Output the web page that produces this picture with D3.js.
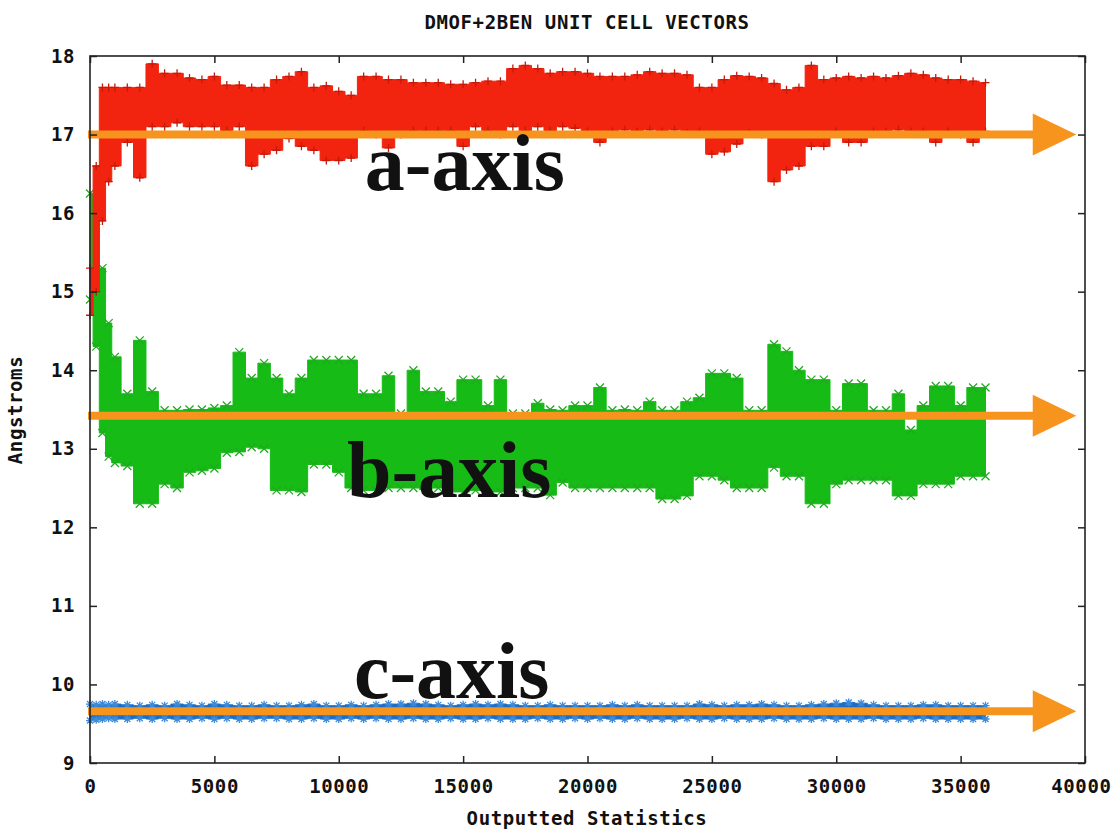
<!DOCTYPE html>
<html>
<head>
<meta charset="utf-8">
<title>DMOF+2BEN unit cell vectors</title>
<script src="https://d3js.org/d3.v7.min.js"></script>
<style>
  body { margin: 0; background: #fff; }
  .mono { font-family: "DejaVu Sans Mono", monospace; font-weight: bold; font-size: 19px; letter-spacing: 0.6px; fill: #111; }
  .big { font-family: "Liberation Serif", "Times New Roman", serif; font-weight: bold; font-size: 80px; fill: #111; }
</style>
</head>
<body>
<div id="vis"></div>
<script>
// sample positions (outputted statistics)
var steps = [0, 250, 500, 750, 1000, 1500, 2000, 2500, 3000, 3500, 4000, 4500, 5000, 5500, 6000,
  6500, 7000, 7500, 8000, 8500, 9000, 9500, 10000, 10500, 11000, 11500, 12000, 12500, 13000,
  13500, 14000, 14500, 15000, 15500, 16000, 16500, 17000, 17500, 18000, 18500, 19000, 19500,
  20000, 20500, 21000, 21500, 22000, 22500, 23000, 23500, 24000, 24500, 25000, 25500, 26000,
  26500, 27000, 27500, 28000, 28500, 29000, 29500, 30000, 30500, 31000, 31500, 32000, 32500,
  33000, 33500, 34000, 34500, 35000, 35500, 36000];

// a-axis (red) lower / upper envelope, Angstroms
var aLo = [14.7, 15.0, 15.9, 16.4, 16.6, 16.9, 16.45, 17.1, 17.1, 17.15, 17.1, 17.1, 17.1, 17.05, 17.1,
  16.6, 16.75, 16.8, 16.95, 16.85, 16.8, 16.67, 16.67, 16.7, 17.05, 17.0, 16.83, 17.0, 17.05,
  17.05, 17.05, 17.05, 16.85, 17.1, 17.05, 17.0, 17.1, 17.05, 17.1, 17.05, 17.1, 17.08,
  17.04, 16.9, 17.04, 17.06, 17.04, 17.06, 17.04, 17.06, 17.02, 17.04, 16.75, 16.78, 16.88,
  17.02, 17.0, 16.4, 16.55, 16.6, 16.85, 16.85, 17.04, 16.9, 16.9, 17.04, 17.04, 17.06,
  17.04, 17.04, 16.9, 17.04, 17.0, 16.9, 17.04];
var aHi = [15.3, 16.6, 17.6, 17.6, 17.6, 17.6, 17.6, 17.9, 17.78, 17.78, 17.72, 17.7, 17.74, 17.63, 17.63,
  17.6, 17.6, 17.7, 17.74, 17.8, 17.6, 17.62, 17.55, 17.5, 17.74, 17.74, 17.7, 17.7, 17.66,
  17.66, 17.66, 17.64, 17.64, 17.66, 17.68, 17.68, 17.84, 17.88, 17.84, 17.78, 17.8, 17.8,
  17.78, 17.74, 17.74, 17.74, 17.76, 17.8, 17.78, 17.78, 17.76, 17.6, 17.6, 17.7, 17.75,
  17.74, 17.72, 17.65, 17.57, 17.6, 17.88, 17.7, 17.72, 17.74, 17.72, 17.74, 17.72, 17.75,
  17.78, 17.76, 17.72, 17.7, 17.7, 17.68, 17.66];

// b-axis (green)
var bLo = [14.9, 14.3, 13.2, 12.9, 12.82, 12.78, 12.3, 12.3, 12.55, 12.5, 12.7, 12.72, 12.75, 12.95, 12.96,
  13.02, 13.0, 12.47, 12.47, 12.45, 12.8, 12.8, 12.7, 12.5, 12.47, 12.47, 12.5, 12.5, 12.5,
  12.48, 12.5, 12.45, 12.45, 12.47, 12.45, 12.45, 12.5, 12.5, 12.5, 12.41, 12.57, 12.5,
  12.5, 12.5, 12.5, 12.5, 12.5, 12.5, 12.36, 12.36, 12.4, 12.65, 12.65, 12.6, 12.5,
  12.5, 12.5, 12.76, 12.65, 12.65, 12.3, 12.3, 12.55, 12.6, 12.6, 12.6, 12.6, 12.4,
  12.4, 12.55, 12.55, 12.55, 12.65, 12.65, 12.65];
var bHi = [16.25, 15.9, 15.3, 14.6, 14.17, 13.7, 14.38, 13.73, 13.49, 13.49, 13.5, 13.5, 13.52, 13.55, 14.23,
  13.9, 14.09, 13.9, 13.7, 13.9, 14.13, 14.13, 14.13, 14.13, 13.7, 13.7, 13.93, 13.45, 14.0,
  13.73, 13.73, 13.6, 13.88, 13.88, 13.55, 13.88, 13.45, 13.45, 13.58, 13.5, 13.49, 13.55,
  13.55, 13.78, 13.49, 13.5, 13.49, 13.6, 13.49, 13.49, 13.6, 13.65, 13.96, 13.96, 13.9,
  13.49, 13.49, 14.33, 14.24, 14.0, 13.88, 13.88, 13.49, 13.83, 13.83, 13.49, 13.49, 13.7,
  13.24, 13.55, 13.8, 13.8, 13.55, 13.78, 13.78];

// c-axis (blue)
var cLo = [9.54, 9.55, 9.56, 9.57, 9.56, 9.56, 9.57, 9.56, 9.57, 9.56, 9.56, 9.57, 9.56, 9.57, 9.56,
  9.56, 9.57, 9.57, 9.56, 9.56, 9.57, 9.56, 9.56, 9.57, 9.56, 9.57, 9.56, 9.56, 9.57,
  9.56, 9.56, 9.57, 9.56, 9.56, 9.57, 9.56, 9.56, 9.56, 9.57, 9.56, 9.56, 9.57,
  9.56, 9.57, 9.56, 9.56, 9.57, 9.56, 9.56, 9.56, 9.57, 9.56, 9.56, 9.57, 9.56,
  9.56, 9.56, 9.57, 9.56, 9.56, 9.56, 9.57, 9.56, 9.56, 9.56, 9.57, 9.56, 9.56,
  9.56, 9.57, 9.56, 9.56, 9.56, 9.56, 9.56];
var cHi = [9.75, 9.74, 9.75, 9.74, 9.75, 9.74, 9.73, 9.74, 9.73, 9.75, 9.74, 9.73, 9.75, 9.74, 9.73,
  9.73, 9.74, 9.73, 9.73, 9.74, 9.75, 9.73, 9.73, 9.74, 9.73, 9.74, 9.75, 9.75, 9.76,
  9.75, 9.74, 9.73, 9.74, 9.75, 9.74, 9.75, 9.74, 9.73, 9.73, 9.74, 9.73, 9.73,
  9.73, 9.73, 9.74, 9.73, 9.74, 9.73, 9.73, 9.73, 9.73, 9.75, 9.74, 9.73, 9.74,
  9.74, 9.75, 9.74, 9.73, 9.73, 9.74, 9.75, 9.76, 9.77, 9.76, 9.74, 9.73, 9.73,
  9.73, 9.74, 9.74, 9.73, 9.73, 9.73, 9.73];

// tick labels
var xTicks = [0, 5000, 10000, 15000, 20000, 25000, 30000, 35000, 40000];
var yTicks = [9, 10, 11, 12, 13, 14, 15, 16, 17, 18];

// annotation arrows and labels
var arrowLevels = [17.0, 13.42, 9.66];
var axisNames = ["a-axis", "b-axis", "c-axis"];
var nameX = [11050, 10330, 10610];
var nameY = [16.29, 12.39, 9.83];

var width = 1120, height = 831;
var svg = d3.select("#vis").append("svg")
  .attr("width", width)
  .attr("height", height);
svg.append("rect").attr("width", width).attr("height", height).attr("fill", "#fff");

var x = d3.scaleLinear().domain([0, 40000]).range([90, 1085]);
var y = d3.scaleLinear().domain([9, 18]).range([763, 56]);

function series(lo, hi) {
  return steps.map(function (s, i) { return { s: s, lo: lo[i], hi: hi[i] }; });
}

var area = d3.area()
  .curve(d3.curveStep)
  .x(function (d) { return x(d.s); })
  .y0(function (d) { return y(d.lo); })
  .y1(function (d) { return y(d.hi); });

var sets = [
  { data: series(bLo, bHi), fill: "#16bb16", mark: "#22a822", glyph: "x" },
  { data: series(aLo, aHi), fill: "#f2230f", mark: "#c41a0a", glyph: "+" },
  { data: series(cLo, cHi), fill: "#1f6cc4", mark: "#3d8ad8", glyph: "*" }
];

function glyphPath(t) {
  var r = 4;
  if (t == "+") return "M" + (-r) + ",0H" + r + "M0," + (-r) + "V" + r;
  if (t == "x") return "M" + (-r) + "," + (-r) + "L" + r + "," + r + "M" + (-r) + "," + r + "L" + r + "," + (-r);
  return "M" + (-r) + ",0H" + r + "M0," + (-r) + "V" + r + "M-3,-3L3,3M-3,3L3,-3";
}

sets.forEach(function (set) {
  var g = svg.append("g");
  g.append("path")
    .datum(set.data)
    .attr("d", area)
    .attr("fill", set.fill)
    .attr("stroke", set.fill)
    .attr("stroke-width", 1);
  // point markers along the envelope edges
  var pts = [];
  set.data.forEach(function (d) {
    pts.push([d.s, d.hi]);
    pts.push([d.s, d.lo]);
  });
  g.selectAll("path.m")
    .data(pts)
    .enter().append("path")
    .attr("class", "m")
    .attr("transform", function (d) { return "translate(" + x(d[0]) + "," + y(d[1]) + ")"; })
    .attr("d", glyphPath(set.glyph))
    .attr("stroke", set.mark)
    .attr("stroke-width", 1.3)
    .attr("fill", "none");
});

// orange arrows
var orange = "#f7941d";
var arrows = svg.append("g");
arrowLevels.forEach(function (v) {
  var yy = y(v);
  arrows.append("line")
    .attr("x1", x(-80)).attr("x2", x(38100))
    .attr("y1", yy).attr("y2", yy)
    .attr("stroke", orange)
    .attr("stroke-width", 8);
  arrows.append("path")
    .attr("d", "M" + x(37900) + "," + (yy - 21) + "L" + x(39650) + "," + yy + "L" + x(37900) + "," + (yy + 21) + "Z")
    .attr("fill", orange);
});

// big labels
axisNames.forEach(function (t, i) {
  svg.append("text")
    .attr("class", "big")
    .attr("x", x(nameX[i]))
    .attr("y", y(nameY[i]))
    .text(t);
});

// axes with inward ticks on all sides
var fmt = d3.format("d");
var gx = svg.append("g").attr("transform", "translate(0,763)")
  .call(d3.axisBottom(x).tickValues(xTicks).tickFormat(fmt).tickSize(-7).tickSizeOuter(0).tickPadding(17));
var gy = svg.append("g").attr("transform", "translate(90,0)")
  .call(d3.axisLeft(y).tickValues(yTicks).tickFormat(fmt).tickSize(-7).tickSizeOuter(0).tickPadding(15));
var gxt = svg.append("g").attr("transform", "translate(0,56)")
  .call(d3.axisTop(x).tickValues(xTicks).tickSize(-7).tickSizeOuter(0).tickFormat(""));
var gyr = svg.append("g").attr("transform", "translate(1085,0)")
  .call(d3.axisRight(y).tickValues(yTicks).tickSize(-7).tickSizeOuter(0).tickFormat(""));

[gx, gy, gxt, gyr].forEach(function (g) {
  g.select(".domain").remove();
  g.selectAll("line").attr("stroke", "#222").attr("stroke-width", 1.5);
  g.selectAll("text").attr("class", "mono").attr("font-size", null).attr("font-family", null);
});
// keep the last x label inside the page
gx.selectAll("text").filter(function (d) { return d == 40000; }).attr("text-anchor", "end").attr("dx", 26);

svg.append("rect")
  .attr("x", 90).attr("y", 56)
  .attr("width", 1085 - 90).attr("height", 763 - 56)
  .attr("fill", "none")
  .attr("stroke", "#222")
  .attr("stroke-width", 1.6);

// titles
svg.append("text").attr("class", "mono")
  .attr("x", 587).attr("y", 29).attr("text-anchor", "middle")
  .text("DMOF+2BEN UNIT CELL VECTORS");
svg.append("text").attr("class", "mono")
  .attr("x", 587).attr("y", 825).attr("text-anchor", "middle")
  .text("Outputted Statistics");
svg.append("text").attr("class", "mono")
  .attr("transform", "translate(22,410) rotate(-90)")
  .attr("text-anchor", "middle")
  .text("Angstroms");
</script>
</body>
</html>
